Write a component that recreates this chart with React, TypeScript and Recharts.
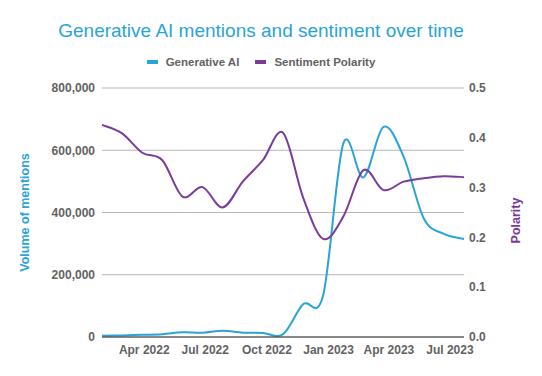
import React from 'react';
import { LineChart, Line, XAxis, YAxis, CartesianGrid, Legend } from 'recharts';

const FONT = '"Liberation Sans", Arial, sans-serif';
const BLUE = '#2aa4d8';
const PURPLE = '#7a3b99';
const GREY = '#626262';

// sample dates (roughly every 30 days)
const dates = [
  '2022-01-28', '2022-02-27', '2022-03-29', '2022-04-28', '2022-05-28', '2022-06-27',
  '2022-07-27', '2022-08-26', '2022-09-25', '2022-10-25', '2022-11-24', '2022-12-24',
  '2023-01-23', '2023-02-22', '2023-03-24', '2023-04-23', '2023-05-23', '2023-06-22',
  '2023-07-22',
];
const mentions = [
  4000, 5000, 7000, 9000, 15000, 14000, 20000, 14000, 13000, 9000, 105000, 135000,
  622000, 513000, 675000, 579000, 381000, 331000, 315000,
];
const polarity = [
  0.426, 0.409, 0.37, 0.355, 0.282, 0.301, 0.26, 0.312, 0.355, 0.41, 0.28, 0.197,
  0.242, 0.335, 0.295, 0.312, 0.319, 0.323, 0.321,
];
const tickDates = ['2022-04-01', '2022-07-01', '2022-10-01', '2023-01-01', '2023-04-01', '2023-07-01'];
const tickLabels = ['Apr 2022', 'Jul 2022', 'Oct 2022', 'Jan 2023', 'Apr 2023', 'Jul 2023'];
const leftTicks = [0, 200000, 400000, 600000, 800000];
const rightTicks = [0, 0.1, 0.2, 0.3, 0.4, 0.5];
const seriesNames = ['Generative AI', 'Sentiment Polarity'];

const data = dates.map((d, i) => ({ t: Date.parse(d), mentions: mentions[i], polarity: polarity[i] }));
const tickValues = tickDates.map((d) => Date.parse(d));

// Catmull-Rom style smoothing curve (like Google's "smooth" lines)
const smoothCurve: any = (context: any) => {
  let pts: [number, number][] = [];
  return {
    areaStart() {},
    areaEnd() {},
    lineStart() {
      pts = [];
    },
    lineEnd() {
      if (!pts.length) return;
      context.moveTo(pts[0][0], pts[0][1]);
      const k = 1 / 6;
      for (let i = 0; i < pts.length - 1; i++) {
        const p0 = pts[Math.max(0, i - 1)];
        const p1 = pts[i];
        const p2 = pts[i + 1];
        const p3 = pts[Math.min(pts.length - 1, i + 2)];
        context.bezierCurveTo(
          p1[0] + (p2[0] - p0[0]) * k,
          p1[1] + (p2[1] - p0[1]) * k,
          p2[0] - (p3[0] - p1[0]) * k,
          p2[1] - (p3[1] - p1[1]) * k,
          p2[0],
          p2[1]
        );
      }
    },
    point(x: number, y: number) {
      pts.push([+x, +y]);
    },
  };
};

const AxisTitle = (props: any) => {
  const { viewBox, text, color, cx, yOffset = 0 } = props;
  const cy = viewBox.y + viewBox.height / 2 + yOffset;
  return (
    <text
      x={cx}
      y={cy}
      transform={`rotate(-90 ${cx} ${cy})`}
      textAnchor="middle"
      dominantBaseline="central"
      fill={color}
      fontFamily={FONT}
      fontWeight="bold"
      fontSize={12.5}
    >
      {text}
    </text>
  );
};

const renderLegend = () => (
  <div
    style={{
      display: 'flex',
      justifyContent: 'center',
      alignItems: 'center',
      gap: 16,
      width: 522,
      height: 20,
      fontFamily: FONT,
      fontSize: 11.5,
      fontWeight: 'bold',
      color: GREY,
    }}
  >
    {seriesNames.map((name, i) => (
      <div key={name} style={{ display: 'flex', alignItems: 'center' }}>
        <span
          style={{ display: 'inline-block', width: 11, height: 4, background: i === 0 ? BLUE : PURPLE, marginRight: 8 }}
        />
        <span>{name}</span>
      </div>
    ))}
  </div>
);

const tickStyle = { fill: GREY, fontSize: 12, fontWeight: 'bold', fontFamily: FONT } as any;

export default function App() {
  return (
    <div style={{ position: 'absolute', left: 0, top: 0, width: 542, height: 376, background: '#fff' }}>
      <div
        style={{
          position: 'absolute',
          left: 0,
          top: 20,
          width: 522,
          textAlign: 'center',
          fontFamily: FONT,
          fontSize: 19,
          lineHeight: '22px',
          color: BLUE,
          zIndex: 2,
        }}
      >
        Generative AI mentions and sentiment over time
      </div>
      <LineChart width={542} height={376} data={data} margin={{ top: 68, right: 0, bottom: 9, left: 0 }}>
        <CartesianGrid vertical={false} stroke="#b7b7b7" yAxisId="left" />
        <XAxis
          dataKey="t"
          type="number"
          domain={['dataMin', 'dataMax']}
          ticks={tickValues}
          tickFormatter={(v: number) => tickLabels[tickValues.indexOf(v)] ?? ''}
          interval={0}
          tickLine={false}
          axisLine={{ stroke: '#333333' }}
          tick={tickStyle}
          height={30}
        />
        <YAxis
          yAxisId="left"
          domain={[0, 800000]}
          ticks={leftTicks}
          tickFormatter={(v: number) => v.toLocaleString('en-US')}
          tickLine={false}
          axisLine={false}
          tickSize={5}
          tick={tickStyle}
          width={102}
          label={<AxisTitle text="Volume of mentions" color={BLUE} cx={25} />}
        />
        <YAxis
          yAxisId="right"
          orientation="right"
          domain={[0, 0.5]}
          ticks={rightTicks}
          tickFormatter={(v: number) => v.toFixed(1)}
          tickLine={false}
          axisLine={false}
          tickSize={3}
          tick={tickStyle}
          width={78}
          label={<AxisTitle text="Polarity" color={PURPLE} cx={516} yOffset={8} />}
        />
        <Legend
          verticalAlign="top"
          content={renderLegend}
          wrapperStyle={{ top: 52, left: 0, width: 542, height: 20, margin: 0 }}
        />
        <Line
          yAxisId="left"
          dataKey="mentions"
          name={seriesNames[0]}
          type={smoothCurve}
          stroke={BLUE}
          strokeWidth={2}
          dot={false}
          activeDot={false}
          isAnimationActive={false}
        />
        <Line
          yAxisId="right"
          dataKey="polarity"
          name={seriesNames[1]}
          type={smoothCurve}
          stroke={PURPLE}
          strokeWidth={2}
          dot={false}
          activeDot={false}
          isAnimationActive={false}
        />
      </LineChart>
    </div>
  );
}
